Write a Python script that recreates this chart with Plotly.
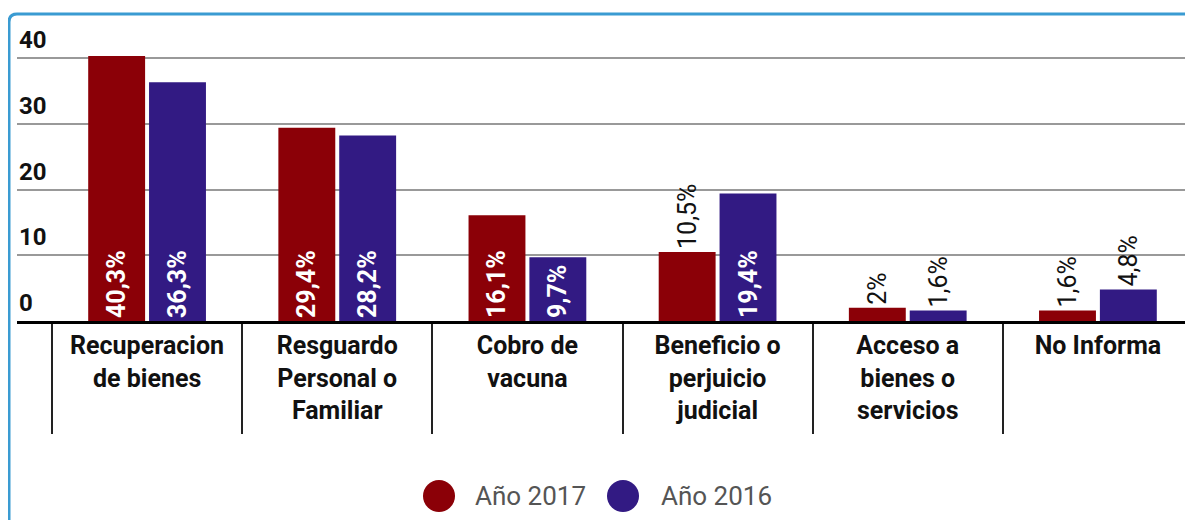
import plotly.graph_objects as go

categories = ["Recuperacion<br>de bienes", "Resguardo<br>Personal o<br>Familiar", "Cobro de<br>vacuna",
              "Beneficio o<br>perjuicio<br>judicial", "Acceso a<br>bienes o<br>servicios", "No Informa"]
y2017 = [40.3, 29.4, 16.1, 10.5, 2, 1.6]
y2016 = [36.3, 28.2, 9.7, 19.4, 1.6, 4.8]
text2017 = ["40,3%", "29,4%", "16,1%", "10,5%", "2%", "1,6%"]
text2016 = ["36,3%", "28,2%", "9,7%", "19,4%", "1,6%", "4,8%"]
pos2017 = ["inside", "inside", "inside", "outside", "outside", "outside"]
pos2016 = ["inside", "inside", "inside", "inside", "outside", "outside"]
yticks = [0, 10, 20, 30, 40]
series = ["Año 2017", "Año 2016"]

red = "#8b0007"
blue = "#321a83"
font = "Roboto, Arial, sans-serif"

# pixel layout of the plot area inside the figure
L, T, W, H = 9, 12, 1176, 301
FW, FH = 1185, 512


def px(x, y):
    # figure pixels -> paper coords
    return (x - L) / W, (T + H - y) / H


fig = go.Figure()
for name, vals, txt, pos, col in [(series[0], y2017, text2017, pos2017, red),
                                  (series[1], y2016, text2016, pos2016, blue)]:
    fig.add_trace(go.Bar(
        x=categories, y=vals, text=txt, name=name, marker_color=col,
        marker_line_width=0, textposition=pos, insidetextanchor="start",
        textangle=-90, cliponaxis=False, showlegend=False, constraintext="none",
        insidetextfont=dict(family=font, size=25, color="white", weight="bold"),
        outsidetextfont=dict(family=font, size=25, color="#111", weight=400),
    ))

# y tick labels sit above their gridlines
for v in yticks:
    fig.add_annotation(x=0, xref="paper", y=v, yref="y", text=str(v), showarrow=False,
                       xanchor="left", yanchor="bottom", xshift=0, yshift=2,
                       font=dict(family=font, size=24, color="#111", weight="bold"))

# manual legend with large circles
for name, col, cx, tx in [(series[0], red, 431, 465), (series[1], blue, 615, 651)]:
    ax, ay = px(cx, 488)
    fig.add_shape(type="circle", xref="paper", yref="paper", xsizemode="pixel", ysizemode="pixel",
                  xanchor=ax, yanchor=ay, x0=-16, x1=16, y0=-16, y1=16,
                  fillcolor=col, line_width=0)
    bx, _ = px(tx, 488)
    fig.add_annotation(x=bx, y=ay, xref="paper", yref="paper", text=name, showarrow=False,
                       xanchor="left", yanchor="middle",
                       font=dict(family=font, size=26, color="#555"))

# rounded border (light blue)
pts = [px(1, 540), px(1, 14), px(1, 6), px(9, 6), px(1210, 6)]
path = "M {},{} L {},{} Q {},{} {},{} L {},{}".format(*[c for p in pts for c in p])
fig.add_shape(type="path", path=path, xref="paper", yref="paper",
              line=dict(color="#3a9bd2", width=3), layer="above")

fig.update_layout(
    width=FW, height=FH,
    margin=dict(l=L, r=FW - L - W, t=T, b=FH - T - H),
    plot_bgcolor="white", paper_bgcolor="white",
    barmode="group", bargap=0.36, bargroupgap=0.065,
    font=dict(family=font, color="#222"),
    showlegend=False,
    xaxis=dict(range=[-0.684, 5.5], showline=True, linecolor="black", linewidth=3,
               ticks="outside", tickson="boundaries", ticklen=110, tickcolor="#222", tickwidth=2,
               tickfont=dict(size=25, color="#111", weight="bold"), showgrid=False),
    yaxis=dict(range=[0, 45.78], tickvals=yticks, showgrid=True, gridcolor="#999", gridwidth=2,
               showticklabels=False, zeroline=False),
)

fig.write_html("out.html")
